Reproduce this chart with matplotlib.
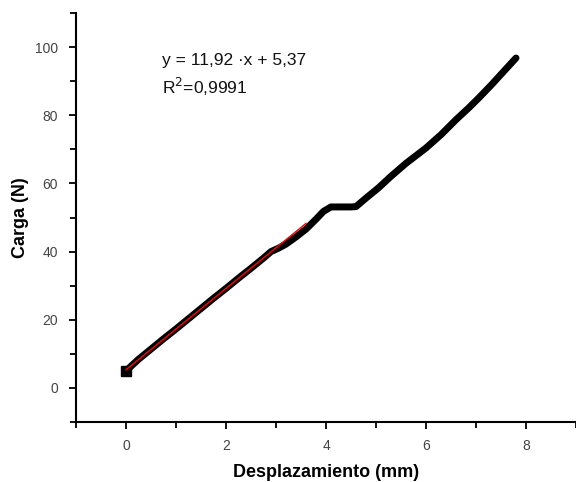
import matplotlib.pyplot as plt
from matplotlib.ticker import MultipleLocator

desplazamiento = [0.0, 0.25, 0.5, 0.75, 1.0, 1.25, 1.5, 1.75, 2.0, 2.25, 2.5, 2.75,
                  2.9, 3.05, 3.2, 3.4, 3.6, 3.8, 3.95, 4.1, 4.3, 4.5, 4.6, 4.8,
                  5.05, 5.3, 5.6, 6.0, 6.3, 6.6, 6.85, 7.05, 7.3, 7.55, 7.8]
carga = [5.0, 8.4, 11.4, 14.4, 17.3, 20.3, 23.3, 26.3, 29.2, 32.2, 35.1, 38.1,
         40.0, 41.0, 42.2, 44.3, 46.6, 49.5, 51.8, 53.1, 53.1, 53.1, 53.2, 55.7,
         58.7, 62.1, 65.9, 70.4, 74.3, 78.7, 82.1, 85.0, 88.8, 92.8, 96.8]

# linear fit as reported on the chart
pendiente = 11.92
intercepto = 5.37
fit_x = [0.0, 3.6]

plt.rcParams["font.family"] = ["Liberation Sans", "DejaVu Sans"]

fig = plt.figure(figsize=(5.76, 4.82), dpi=100)
ax = fig.add_axes([0.132, 0.1245, 0.868, 0.8485])

ax.plot(desplazamiento, carga, color="black", lw=5, solid_capstyle="round",
        solid_joinstyle="round", zorder=2)
ax.plot(desplazamiento[:1], carga[:1], color="black", ls="none", marker="s",
        markersize=7, zorder=2)
ax.plot(fit_x, [pendiente * x + intercepto for x in fit_x], color="red", lw=1, zorder=3)

ax.set_xlim(-1, 9)
ax.set_ylim(-10, 110)
ax.xaxis.set_major_locator(MultipleLocator(2))
ax.xaxis.set_minor_locator(MultipleLocator(1))
ax.yaxis.set_major_locator(MultipleLocator(20))
ax.yaxis.set_minor_locator(MultipleLocator(10))
ax.set_yticks(range(0, 101, 20))

for s in ["top", "right"]:
    ax.spines[s].set_visible(False)
for s in ["left", "bottom"]:
    ax.spines[s].set_linewidth(1.5)

ax.tick_params(which="major", direction="out", length=5, width=1.3, labelsize=10,
               labelcolor="#444444")
ax.tick_params(axis="x", which="major", pad=7)
ax.tick_params(axis="y", which="major", pad=8)
ax.tick_params(which="minor", direction="out", length=4, width=1.3)

ax.set_xlabel("Desplazamiento (mm)", fontsize=13, fontweight="bold", labelpad=8)
ax.set_ylabel("Carga (N)", fontsize=13, fontweight="bold", labelpad=4)

ax.text(0.72, 96, "y = 11,92 ·x + 5,37", fontsize=12.5, va="center", color="#111111")
ax.text(0.72, 88.3, "R$^2$=0,9991", fontsize=12.5, va="center", color="#111111")

fig.savefig("out.png", dpi=100)
